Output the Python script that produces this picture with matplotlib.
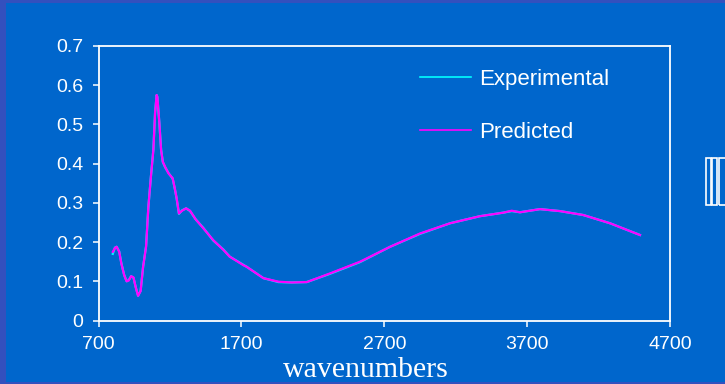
import matplotlib
matplotlib.use("Agg")
import matplotlib.pyplot as plt
from matplotlib.patches import Rectangle

# spectrum read point by point (wavenumber, absorbance)
wn = [800, 815, 827, 845, 860, 880, 897, 912, 928, 945, 960, 977, 995,
      1012, 1033, 1049, 1067, 1084, 1096, 1107, 1112, 1126, 1138, 1150,
      1166, 1190, 1219, 1235, 1247, 1263, 1285, 1313, 1341, 1380, 1434,
      1503, 1574, 1618, 1714, 1737, 1854, 1959, 2050, 2158, 2320, 2531,
      2741, 2951, 3161, 3370, 3533, 3592, 3650, 3790, 3930, 4093, 4280, 4490]
experimental = [0.170, 0.186, 0.188, 0.176, 0.146, 0.116, 0.100, 0.103, 0.113,
                0.109, 0.086, 0.063, 0.076, 0.136, 0.190, 0.289, 0.368, 0.436,
                0.530, 0.575, 0.570, 0.503, 0.436, 0.404, 0.391, 0.376, 0.362,
                0.334, 0.310, 0.272, 0.281, 0.286, 0.279, 0.258, 0.236, 0.204,
                0.181, 0.163, 0.142, 0.137, 0.108, 0.098, 0.097, 0.098, 0.119,
                0.149, 0.188, 0.221, 0.248, 0.266, 0.275, 0.279, 0.276, 0.284,
                0.279, 0.269, 0.248, 0.218]
predicted = [0.175, 0.185, 0.188, 0.175, 0.145, 0.115, 0.100, 0.102, 0.113,
             0.110, 0.085, 0.063, 0.075, 0.137, 0.188, 0.290, 0.367, 0.435,
             0.530, 0.575, 0.570, 0.504, 0.435, 0.405, 0.392, 0.375, 0.363,
             0.335, 0.312, 0.273, 0.280, 0.286, 0.280, 0.258, 0.235, 0.205,
             0.180, 0.163, 0.141, 0.137, 0.108, 0.099, 0.097, 0.098, 0.120,
             0.150, 0.188, 0.222, 0.248, 0.266, 0.275, 0.280, 0.276, 0.284,
             0.279, 0.269, 0.248, 0.218]

xticks = [700, 1700, 2700, 3700, 4700]
yticks = [0, 0.1, 0.2, 0.3, 0.4, 0.5, 0.6, 0.7]
ylabels = ["0", "0.1", "0.2", "0.3", "0.4", "0.5", "0.6", "0.7"]

bg = "#0066CC"
edge = "#3350BE"
plt.rcParams["font.family"] = ["Liberation Sans", "DejaVu Sans"]

fig = plt.figure(figsize=(7.25, 3.84), dpi=100)
fig.patch.set_facecolor(edge)
W, H = 725.0, 384.0
# inner slide area, thin frame left/top/bottom
fig.add_artist(Rectangle((6 / W, 2 / H), 1 - 6 / W, 1 - 5 / H,
                         transform=fig.transFigure, facecolor=bg,
                         edgecolor="none", zorder=-10))

ax = fig.add_axes([98.5 / W, 1 - 320.5 / H, 571.5 / W, 274.5 / H])
ax.set_zorder(1)
ax.set_facecolor(bg)
ax.plot(wn, experimental, color="#00FFFF", lw=1.6, label="Experimental")
ax.plot(wn, predicted, color="#FF00FF", lw=1.6, label="Predicted")

ax.set_xlim(700, 4700)
ax.set_ylim(0, 0.7)
ax.set_xticks(xticks)
ax.set_yticks(yticks)
ax.set_yticklabels(ylabels)
for s in ax.spines.values():
    s.set_color("white")
    s.set_linewidth(1.3)
ax.tick_params(axis="both", colors="white", labelcolor="white",
               labelsize=14, length=4, width=1.1)
ax.tick_params(axis="x", pad=7)
ax.tick_params(axis="y", pad=7)

fig.text(366 / W, 1 - 370 / H, "wavenumbers", family="Liberation Serif",
         fontsize=21.5, color="white", ha="center", va="center")

leg = ax.legend(loc="upper left", bbox_to_anchor=(420 / W, 1 - 69 / H),
                bbox_transform=fig.transFigure, frameon=False,
                fontsize=16, handlelength=2.3, handletextpad=0.35,
                labelspacing=1.45, borderpad=0, borderaxespad=0)
for t in leg.get_texts():
    t.set_color("white")
for ln in leg.get_lines():
    ln.set_linewidth(1.2)

# stray outlined bars at the right edge
for x0, x1 in [(706, 711), (712, 717), (719, 727)]:
    fig.add_artist(Rectangle((x0 / W, 1 - 205 / H), (x1 - x0) / W, 47 / H,
                             transform=fig.transFigure, facecolor="none",
                             edgecolor="white", lw=1.2))

fig.savefig("out.png", dpi=100, facecolor=fig.get_facecolor())
